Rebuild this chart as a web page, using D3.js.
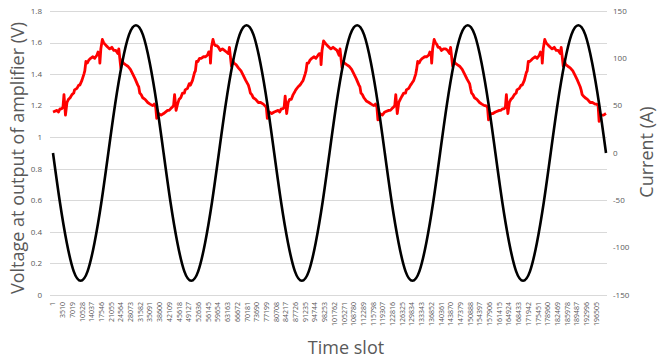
<!DOCTYPE html>
<html>
<head>
<meta charset="utf-8">
<script src="https://cdn.jsdelivr.net/npm/d3@7"></script>
<style>
  html, body { margin: 0; padding: 0; background: #fff; }
  svg { display: block; }
  text { font-family: "Open Sans", "Liberation Sans", sans-serif; fill: #595959; }
</style>
</head>
<body>
<svg id="chart" width="663" height="360"></svg>
<script>
// Sample index range of the recording
const timeDomain = [1, 200000];

// Category labels shown under the time axis
const timeTicks = [1, 3510, 7019, 10528, 14037, 17546, 21055, 24564, 28073, 31582,
  35091, 38600, 42109, 45618, 49127, 52636, 56145, 59654, 63163, 66672,
  70181, 73690, 77199, 80708, 84217, 87726, 91235, 94744, 98253, 101762,
  105271, 108780, 112289, 115798, 119307, 122816, 126325, 129834, 133343, 136852,
  140361, 143870, 147379, 150888, 154397, 157906, 161415, 164924, 168433, 171942,
  175451, 178960, 182469, 185978, 189487, 192996, 196505];

const voltageTicks = [0, 0.2, 0.4, 0.6, 0.8, 1, 1.2, 1.4, 1.6, 1.8];
const currentTicks = [-150, -100, -50, 0, 50, 100, 150];

// Amplifier output voltage (V): [sample, value]
const voltage = [
  [1,1.16],[1440,1.17],[2000,1.16],[2520,1.18],[3100,1.18],[3600,1.19],[3970,1.27],[4510,1.14],[5050,1.22],[5590,1.24],
  [6200,1.25],[6850,1.27],[7500,1.28],[7800,1.30],[8660,1.31],[9300,1.33],[9700,1.33],[10460,1.36],[11180,1.40],
  [11500,1.42],[11900,1.48],[12400,1.47],[12990,1.49],[13600,1.50],[14430,1.51],[15100,1.50],[15870,1.52],
  [16300,1.54],[16770,1.53],[16950,1.47],[17300,1.56],[17850,1.62],[18300,1.60],[18760,1.59],[19300,1.58],
  [19840,1.57],[20500,1.56],[21280,1.57],[22000,1.55],[22720,1.55],[23450,1.53],[23800,1.56],[24530,1.44],
  [24890,1.49],[25430,1.47],[26200,1.46],[27050,1.45],[28000,1.43],[28860,1.40],[29700,1.37],[30660,1.33],
  [31000,1.32],[31380,1.28],[31900,1.27],[32460,1.25],[33300,1.24],[34270,1.22],[35100,1.21],[36070,1.20],
  [36600,1.21],[37150,1.19],[37510,1.12],[38230,1.15],[39100,1.14],
  [40000,1.15],[41440,1.17],[42000,1.17],[42520,1.18],[43100,1.19],[43600,1.20],[43970,1.27],[44510,1.17],[45050,1.21],[45590,1.24],
  [46200,1.25],[46850,1.28],[47500,1.28],[47800,1.30],[48660,1.31],[49300,1.34],[49700,1.33],[50460,1.36],[51180,1.41],
  [51500,1.42],[51900,1.48],[52400,1.48],[52990,1.50],[53600,1.50],[54430,1.51],[55100,1.51],[55870,1.52],
  [56300,1.54],[56770,1.54],[56950,1.47],[57300,1.57],[57850,1.62],[58300,1.59],[58760,1.58],[59300,1.58],
  [59840,1.57],[60500,1.55],[61280,1.56],[62000,1.55],[62720,1.54],[63450,1.53],[63800,1.57],[64530,1.45],
  [64890,1.49],[65430,1.47],[66200,1.46],[67050,1.44],[68000,1.42],[68860,1.39],[69700,1.36],[70660,1.33],
  [71000,1.31],[71380,1.28],[71900,1.27],[72460,1.25],[73300,1.24],[74270,1.22],[75100,1.22],[76070,1.21],
  [76600,1.20],[77150,1.19],[77510,1.12],[78230,1.16],[79100,1.15],
  [80000,1.16],[81440,1.17],[82000,1.16],[82520,1.18],[83100,1.18],[83600,1.19],[83970,1.26],[84510,1.15],[85050,1.22],[85590,1.24],
  [86200,1.24],[86850,1.27],[87500,1.29],[87800,1.30],[88660,1.32],[89300,1.33],[89700,1.34],[90460,1.36],[91180,1.40],
  [91500,1.42],[91900,1.47],[92400,1.47],[92990,1.49],[93600,1.50],[94430,1.51],[95100,1.50],[95870,1.52],
  [96300,1.53],[96770,1.53],[96950,1.46],[97300,1.55],[97850,1.61],[98300,1.60],[98760,1.59],[99300,1.58],
  [99840,1.57],[100500,1.56],[101280,1.57],[102000,1.56],[102720,1.55],[103450,1.52],[103800,1.56],[104530,1.44],
  [104890,1.48],[105430,1.47],[106200,1.46],[107050,1.45],[108000,1.43],[108860,1.40],[109700,1.37],[110660,1.33],
  [111000,1.32],[111380,1.28],[111900,1.27],[112460,1.25],[113300,1.23],[114270,1.22],[115100,1.21],[116070,1.20],
  [116600,1.21],[117150,1.19],[117510,1.11],[118230,1.15],[119100,1.14],
  [120000,1.16],[121440,1.17],[122000,1.17],[122520,1.18],[123100,1.19],[123600,1.20],[123970,1.27],[124510,1.15],[125050,1.22],[125590,1.24],
  [126200,1.26],[126850,1.28],[127500,1.28],[127800,1.30],[128660,1.31],[129300,1.33],[129700,1.34],[130460,1.36],[131180,1.40],
  [131500,1.43],[131900,1.48],[132400,1.47],[132990,1.49],[133600,1.50],[134430,1.51],[135100,1.51],[135870,1.52],
  [136300,1.54],[136770,1.53],[136950,1.47],[137300,1.56],[137850,1.62],[138300,1.60],[138760,1.59],[139300,1.57],
  [139840,1.57],[140500,1.55],[141280,1.56],[142000,1.56],[142720,1.55],[143450,1.53],[143800,1.57],[144530,1.45],
  [144890,1.49],[145430,1.47],[146200,1.46],[147050,1.45],[148000,1.43],[148860,1.40],[149700,1.37],[150660,1.34],
  [151000,1.31],[151380,1.28],[151900,1.27],[152460,1.25],[153300,1.24],[154270,1.22],[155100,1.21],[156070,1.20],
  [156600,1.20],[157150,1.19],[157510,1.11],[158230,1.15],[159100,1.15],
  [160000,1.16],[161440,1.17],[162000,1.17],[162520,1.18],[163100,1.18],[163600,1.19],[163970,1.27],[164510,1.15],[165050,1.22],[165590,1.24],
  [166200,1.25],[166850,1.27],[167500,1.28],[167800,1.30],[168660,1.31],[169300,1.33],[169700,1.33],[170460,1.36],[171180,1.41],
  [171500,1.42],[171900,1.48],[172400,1.48],[172990,1.49],[173600,1.50],[174430,1.51],[175100,1.50],[175870,1.52],
  [176300,1.54],[176770,1.53],[176950,1.47],[177300,1.56],[177850,1.62],[178300,1.60],[178760,1.59],[179300,1.58],
  [179840,1.57],[180500,1.56],[181280,1.57],[182000,1.55],[182720,1.55],[183450,1.53],[183800,1.57],[184530,1.45],
  [184890,1.49],[185430,1.46],[186200,1.45],[187050,1.44],[188000,1.42],[188860,1.39],[189700,1.36],[190660,1.32],
  [191000,1.30],[191380,1.27],[191900,1.26],[192460,1.25],[193300,1.24],[194270,1.22],[195100,1.22],[196070,1.21],
  [196600,1.21],[197150,1.20],[197510,1.10],[198230,1.14],[199100,1.14],[200000,1.15]
];

// Load current (A), one reading every 2500 samples from sample 1
const currentStep = 2500;
const current = [
  0, -52, -95, -125, -135, -125, -95, -52, 0, 52, 95, 125, 135, 125, 95, 52,
  0, -52, -95, -125, -135, -125, -95, -52, 0, 52, 95, 125, 135, 125, 95, 52,
  0, -52, -95, -125, -135, -125, -95, -52, 0, 52, 95, 125, 135, 125, 95, 52,
  0, -52, -95, -125, -135, -125, -95, -52, 0, 52, 95, 125, 135, 125, 95, 52,
  0, -52, -95, -125, -135, -125, -95, -52, 0, 52, 95, 125, 135, 125, 95, 52,
  0
];

const svg = d3.select("#chart");
svg.append("rect").attr("width", 663).attr("height", 360).attr("fill", "#fff");

const x = d3.scaleLinear().domain(timeDomain).range([53, 606]);
const yV = d3.scaleLinear().domain([0, 1.8]).range([295, 11]);
const yI = d3.scaleLinear().domain([-150, 150]).range([295, 11]);

// Horizontal gridlines on the voltage ticks
svg.append("g").selectAll("line").data(voltageTicks).join("line")
  .attr("x1", 50).attr("x2", 607)
  .attr("y1", d => Math.round(yV(d)) + 0.5).attr("y2", d => Math.round(yV(d)) + 0.5)
  .attr("stroke", "#d9d9d9").attr("stroke-width", 1);

// Left axis labels
svg.append("g").selectAll("text").data(voltageTicks).join("text")
  .attr("x", 42).attr("y", d => yV(d)).attr("dy", "0.35em")
  .attr("text-anchor", "end").attr("font-size", 8)
  .text(d => d3.format("~g")(d));

// Right axis labels
svg.append("g").selectAll("text").data(currentTicks).join("text")
  .attr("x", 613).attr("y", d => yI(d)).attr("dy", "0.35em")
  .attr("text-anchor", "start").attr("font-size", 8)
  .text(d => d);

// Time axis labels, rotated
svg.append("g").selectAll("text").data(timeTicks).join("text")
  .attr("transform", d => `translate(${x(d)},302) rotate(-90)`)
  .attr("dy", "0.35em")
  .attr("text-anchor", "end").attr("font-size", 7)
  .text(d => d);

// Voltage trace
svg.append("path").datum(voltage)
  .attr("fill", "none").attr("stroke", "#ff0000").attr("stroke-width", 2.8)
  .attr("stroke-linejoin", "round")
  .attr("d", d3.line().x(d => x(d[0])).y(d => yV(d[1])));

// Current trace
svg.append("path").datum(current)
  .attr("fill", "none").attr("stroke", "#000").attr("stroke-width", 2.6)
  .attr("d", d3.line().curve(d3.curveNatural)
    .x((d, i) => x(1 + i * currentStep)).y(d => yI(d)));

// Axis titles
svg.append("text")
  .attr("transform", "translate(24,158) rotate(-90)")
  .attr("text-anchor", "middle").attr("font-size", 18)
  .text("Voltage at output of amplifier (V)");

svg.append("text")
  .attr("transform", "translate(653,152) rotate(-90)")
  .attr("text-anchor", "middle").attr("font-size", 18)
  .text("Current (A)");

svg.append("text")
  .attr("x", 346).attr("y", 354)
  .attr("text-anchor", "middle").attr("font-size", 18)
  .text("Time slot");
</script>
</body>
</html>
